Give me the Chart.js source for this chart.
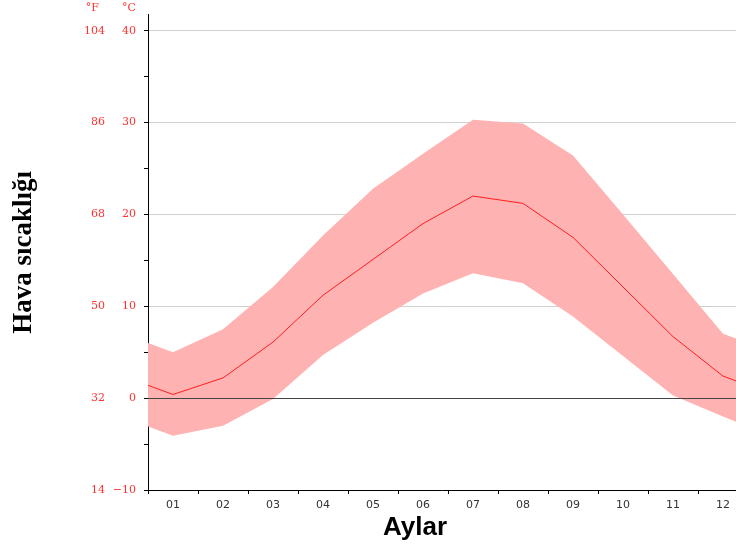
<!DOCTYPE html>
<html>
<head>
<meta charset="utf-8">
<script src="https://cdn.jsdelivr.net/npm/chart.js@4"></script>
<style>
  body { margin: 0; background: #fff; }
</style>
</head>
<body>
<canvas id="climateChart" width="736" height="546"></canvas>
<script>
  const monthLabels = ['01', '02', '03', '04', '05', '06', '07', '08', '09', '10', '11', '12'];
  const meanTemp = [0.4, 2.2, 6.1, 11.2, 15.1, 19.0, 22.0, 21.2, 17.5, 12.1, 6.7, 2.4];
  const highTemp = [5.0, 7.5, 12.1, 17.7, 22.8, 26.6, 30.3, 29.9, 26.4, 20.0, 13.5, 7.0];
  const lowTemp = [-4.1, -3.0, -0.1, 4.7, 8.2, 11.4, 13.6, 12.5, 8.9, 4.6, 0.3, -2.0];
  // values at the year boundary (left and right edge of the plot)
  const edgeMean = 1.4;
  const edgeHigh = 6.0;
  const edgeLow = -3.1;
  const celsiusTicks = [-10, -5, 0, 5, 10, 15, 20, 25, 30, 35, 40];

  function toPoints(values, edge) {
    const pts = [{ x: 0, y: edge }];
    values.forEach((v, i) => pts.push({ x: i + 0.5, y: v }));
    pts.push({ x: 12, y: edge });
    return pts;
  }

  function fmt(v) {
    return v < 0 ? '\u2212' + (-v) : String(v);
  }

  const tickFont = { family: 'DejaVu Serif', size: 11 };
  const redText = 'rgb(255,50,50)';

  const extraText = {
    id: 'extraText',
    afterDatasetsDraw(chart) {
      const { ctx, chartArea, scales } = chart;
      const y0 = Math.round(scales.y.getPixelForValue(0)) + 0.5;
      ctx.save();
      ctx.strokeStyle = '#444';
      ctx.lineWidth = 1;
      ctx.beginPath();
      ctx.moveTo(chartArea.left, y0);
      ctx.lineTo(chartArea.right, y0);
      ctx.stroke();
      ctx.restore();
    },
    afterDraw(chart) {
      const { ctx, scales } = chart;
      ctx.save();
      ctx.fillStyle = redText;
      ctx.font = '11px "DejaVu Serif"';
      ctx.textAlign = 'right';
      ctx.textBaseline = 'middle';
      ctx.fillText('\u00b0C', scales.y.right - 12, 8);
      ctx.fillText('\u00b0F', scales.yF.right - 9, 8);
      ctx.fillStyle = '#000';
      ctx.font = 'bold 26px "Liberation Sans"';
      ctx.textAlign = 'center';
      ctx.fillText('Aylar', 415, 528);
      ctx.restore();
    }
  };

  new Chart(document.getElementById('climateChart'), {
    type: 'line',
    data: {
      datasets: [
        {
          label: 'Ortalama',
          data: toPoints(meanTemp, edgeMean),
          borderColor: 'rgb(255,30,30)',
          borderWidth: 1,
          pointRadius: 0,
          fill: false
        },
        {
          label: 'Maks',
          data: toPoints(highTemp, edgeHigh),
          borderWidth: 0,
          borderColor: 'rgba(0,0,0,0)',
          backgroundColor: '#ffb2b2',
          pointRadius: 0,
          fill: '+1'
        },
        {
          label: 'Min',
          data: toPoints(lowTemp, edgeLow),
          borderWidth: 0,
          borderColor: 'rgba(0,0,0,0)',
          pointRadius: 0,
          fill: false
        }
      ]
    },
    options: {
      responsive: false,
      animation: false,
      layout: { padding: { top: 10, left: 0, right: 0, bottom: 0 } },
      plugins: {
        legend: { display: false },
        tooltip: { enabled: false }
      },
      scales: {
        x: {
          type: 'linear',
          min: 0,
          max: 11.76, // the plot runs past the right edge of the picture
          afterBuildTicks: (axis) => {
            const t = [];
            for (let i = 0; i < 12; i++) {
              t.push({ value: i });
              t.push({ value: i + 0.5 });
            }
            axis.ticks = t;
          },
          afterFit: (axis) => { axis.height = 56; },
          border: { display: true, color: '#000', width: 1 },
          grid: {
            drawOnChartArea: false,
            drawTicks: true,
            tickLength: 4,
            tickColor: (c) => Number.isInteger(c.tick.value) ? '#000' : 'rgba(0,0,0,0)'
          },
          ticks: {
            autoSkip: false,
            maxRotation: 0,
            padding: 5,
            color: '#333',
            font: { family: 'DejaVu Sans', size: 11 },
            callback: (v) => Number.isInteger(v) ? '' : monthLabels[Math.floor(v)]
          }
        },
        y: {
          min: -10,
          max: 41.75,
          weight: 0,
          afterBuildTicks: (axis) => { axis.ticks = celsiusTicks.map(v => ({ value: v })); },
          afterFit: (axis) => { axis.width = 40; },
          border: { display: true, color: '#000', width: 1 },
          grid: {
            color: (c) => (c.tick && c.tick.value % 10 === 0 && c.tick.value !== 0) ? '#d0d0d0' : 'rgba(0,0,0,0)',
            tickColor: '#000',
            tickLength: 4
          },
          ticks: {
            padding: 8,
            color: redText,
            font: tickFont,
            callback: (v) => v % 10 === 0 ? fmt(v) : ''
          }
        },
        yF: {
          position: 'left',
          min: -10,
          max: 41.75,
          weight: 1,
          afterBuildTicks: (axis) => { axis.ticks = celsiusTicks.map(v => ({ value: v })); },
          afterFit: (axis) => { axis.width = 108; },
          border: { display: false },
          grid: { display: false, drawTicks: false },
          ticks: {
            padding: 3,
            color: redText,
            font: tickFont,
            callback: (v) => v % 10 === 0 ? String(Math.round(v * 9 / 5 + 32)) : ''
          },
          title: {
            display: true,
            text: 'Hava s\u0131cakl\u0131\u011f\u0131',
            color: '#000',
            font: { family: 'Liberation Serif', size: 27, weight: 'bold' },
            padding: { top: 8, bottom: 0 }
          }
        }
      }
    },
    plugins: [extraText]
  });
</script>
</body>
</html>
